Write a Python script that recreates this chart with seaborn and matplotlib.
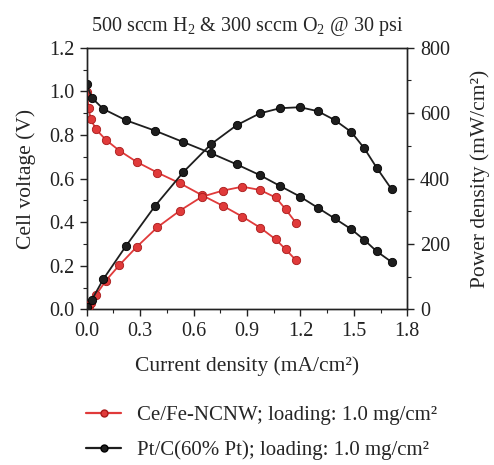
import matplotlib
matplotlib.use("Agg")
import matplotlib.pyplot as plt
import seaborn as sns
from matplotlib.lines import Line2D
from matplotlib.ticker import MultipleLocator

# ---- data ----
pt_current = [0.0, 0.028, 0.093, 0.221, 0.385, 0.543, 0.698, 0.842, 0.971,
              1.085, 1.198, 1.297, 1.392, 1.486, 1.559, 1.628, 1.712]
pt_voltage = [1.032, 0.971, 0.919, 0.867, 0.819, 0.767, 0.716, 0.665, 0.616,
              0.566, 0.517, 0.466, 0.417, 0.367, 0.318, 0.266, 0.217]
pt_power = [8, 28, 92, 194, 317, 420, 505, 563, 599,
            615, 618, 606, 579, 542, 492, 433, 367]

ce_current = [0.0, 0.011, 0.022, 0.052, 0.108, 0.183, 0.281, 0.397, 0.524,
              0.646, 0.764, 0.874, 0.973, 1.061, 1.117, 1.174]
ce_voltage = [0.998, 0.922, 0.873, 0.826, 0.777, 0.728, 0.676, 0.627, 0.578,
              0.524, 0.475, 0.425, 0.375, 0.321, 0.275, 0.226]
ce_power = [3, 10, 19, 44, 88, 135, 191, 251, 302,
            344, 363, 375, 365, 342, 306, 265]

x_ticks = [0.0, 0.3, 0.6, 0.9, 1.2, 1.5, 1.8]
y_ticks = [0.0, 0.2, 0.4, 0.6, 0.8, 1.0, 1.2]
p_ticks = [0, 200, 400, 600, 800]

title = r"500 sccm H$_2$ & 300 sccm O$_2$ @ 30 psi"
label_ce = "Ce/Fe-NCNW; loading: 1.0 mg/cm²"
label_pt = "Pt/C(60% Pt); loading: 1.0 mg/cm²"

RED = "#e03a3a"
RED_EDGE = "#a81a1a"
BLACK = "#1e1e1e"

sns.set_style("ticks")
plt.rcParams["font.family"] = ["Liberation Serif", "DejaVu Serif"]
plt.rcParams["mathtext.fontset"] = "custom"
plt.rcParams["mathtext.rm"] = "Liberation Serif"
plt.rcParams["mathtext.default"] = "regular"

fig = plt.figure(figsize=(4.94, 4.65), dpi=100)
ax = fig.add_axes([0.1755, 0.3348, 0.649, 0.5626])
ax2 = ax.twinx()

line_kw = dict(linewidth=1.3, marker="o", markersize=6, sort=False,
               estimator=None, legend=False)
sns.lineplot(x=ce_current, y=ce_voltage, ax=ax, color=RED,
             markeredgecolor=RED_EDGE, markeredgewidth=0.6, zorder=3, **line_kw)
sns.lineplot(x=pt_current, y=pt_voltage, ax=ax, color=BLACK,
             markeredgecolor="black", markeredgewidth=0.6, zorder=3, **line_kw)
sns.lineplot(x=ce_current, y=ce_power, ax=ax2, color=RED,
             markeredgecolor=RED_EDGE, markeredgewidth=0.6, zorder=3, **line_kw)
sns.lineplot(x=pt_current, y=pt_power, ax=ax2, color=BLACK,
             markeredgecolor="black", markeredgewidth=0.6, zorder=3, **line_kw)

ax.set_xlim(0, 1.8)
ax.set_ylim(0, 1.2)
ax2.set_ylim(0, 800)
ax.set_xticks(x_ticks)
ax.set_xticklabels([f"{v:.1f}" for v in x_ticks])
ax.set_yticks(y_ticks)
ax.set_yticklabels([f"{v:.1f}" for v in y_ticks])
ax2.set_yticks(p_ticks)
ax2.set_yticklabels([str(v) for v in p_ticks])
ax.xaxis.set_minor_locator(MultipleLocator(0.15))
ax.yaxis.set_minor_locator(MultipleLocator(0.1))
ax2.yaxis.set_minor_locator(MultipleLocator(100))

for a in (ax, ax2):
    for s in a.spines.values():
        s.set_visible(True)
        s.set_linewidth(1.0)
        s.set_color("#222222")
    a.tick_params(which="major", direction="out", length=5, width=1.0,
                  labelsize=14.5, colors="#222222", pad=4)
    a.tick_params(which="minor", direction="out", length=3, width=0.8,
                  colors="#222222")
ax.tick_params(axis="y", right=False)
ax.tick_params(axis="x", top=False)
ax2.tick_params(axis="y", left=False)

ax.set_xlabel("Current density (mA/cm²)", fontsize=15.5, labelpad=11)
ax.set_ylabel("Cell voltage (V)", fontsize=15.5, labelpad=9)
ax2.set_ylabel("Power density (mW/cm²)", fontsize=15.5, labelpad=15)
ax.set_title(title, fontsize=14.5, pad=12)

handles = [
    Line2D([], [], color=RED, lw=1.6, marker="o", markersize=5,
           markeredgecolor=RED_EDGE, label=label_ce),
    Line2D([], [], color=BLACK, lw=1.6, marker="o", markersize=5,
           markeredgecolor="black", label=label_pt),
]
fig.legend(handles=handles, loc="upper left", bbox_to_anchor=(0.174, 0.128),
           frameon=False, fontsize=15, handlelength=1.7, handletextpad=0.75,
           labelspacing=0.75, borderaxespad=0, borderpad=0)

fig.savefig("out.png", dpi=100, facecolor="white")
